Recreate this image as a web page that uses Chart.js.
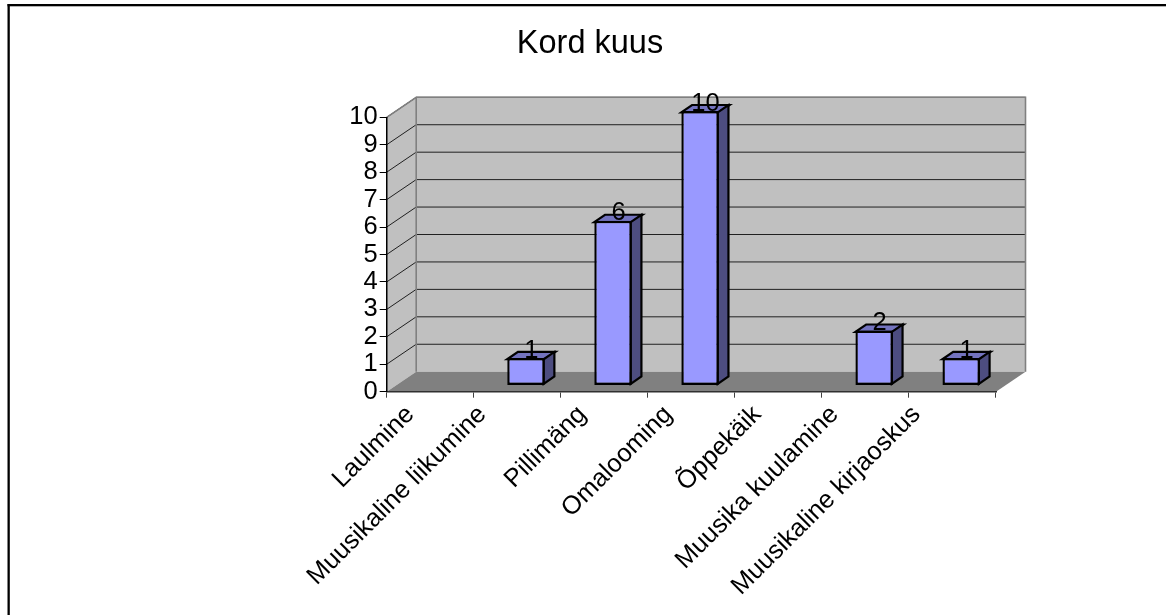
<!DOCTYPE html>
<html>
<head>
<meta charset="utf-8">
<style>html,body{margin:0;padding:0;background:#fff}#wrap{width:1166px;height:615px}canvas{display:block}</style>
<script src="https://cdn.jsdelivr.net/npm/chart.js@4"></script>
</head>
<body>
<div id="wrap"><canvas id="c" width="1166" height="615"></canvas></div>
<script>
const chartTitle = 'Kord kuus';
const categories = ['Laulmine','Muusikaline liikumine','Pillimäng','Omalooming','Õppekäik','Muusika kuulamine','Muusikaline kirjaoskus'];
const values = [null,1,6,10,null,2,1];
const yTicks = [0,1,2,3,4,5,6,7,8,9,10];

const FONT = '"Liberation Sans", Arial, sans-serif';
const WALL = {dx:29.5, dy:-20};
const BAR_SHIFT = {dx:8.7, dy:-6.2};
const BAR_DEPTH = {dx:10.7, dy:-7.3};
const AREA = {left:386.7, right:996, top:117.3, bottom:391.7};
const LABEL_NUDGE = [-6,-21,-8,-9,-7,-17,-22];

function poly(ctx, pts, fill, stroke, lw){
  ctx.beginPath();
  pts.forEach((p,i)=> i?ctx.lineTo(p[0],p[1]):ctx.moveTo(p[0],p[1]));
  ctx.closePath();
  if(fill){ctx.fillStyle=fill;ctx.fill();}
  if(stroke){ctx.strokeStyle=stroke;ctx.lineWidth=lw;ctx.lineJoin='miter';ctx.stroke();}
}

const threeD = {
  id:'threeD',
  afterLayout(chart){
    const t = chart.titleBlock;
    t.left = 14; t.right = 1166;
  },
  beforeDraw(chart){
    const ctx = chart.ctx, x = chart.scales.x, y = chart.scales.y;
    const L=x.left,R=x.right,T=y.top,B=y.bottom,dx=WALL.dx,dy=WALL.dy;
    if(!chart.$nudged){
      x.getLabelItems().forEach((it,i)=>{ it.options.translation[0]+=LABEL_NUDGE[i]; });
      chart.$nudged = true;
    }
    ctx.save();
    ctx.fillStyle='#fff';ctx.fillRect(0,0,chart.width,chart.height);
    // frame
    ctx.fillStyle='#000';
    ctx.fillRect(7.5,4,1158.5,2.3);
    ctx.fillRect(7.5,4,2.3,611);
    // back + side wall
    poly(ctx,[[L+dx,T+dy],[R+dx,T+dy],[R+dx,B+dy],[L+dx,B+dy]],'#c0c0c0');
    poly(ctx,[[L,T],[L+dx,T+dy],[L+dx,B+dy],[L,B]],'#c0c0c0');
    // gridlines
    ctx.strokeStyle='#202020';ctx.lineWidth=1;
    yTicks.forEach(v=>{
      const p=y.getPixelForValue(v);
      if(v===0) return;
      ctx.beginPath();
      ctx.moveTo(L,p);ctx.lineTo(L+dx,p+dy);ctx.lineTo(R+dx,p+dy);
      ctx.stroke();
    });
    // wall outlines
    ctx.strokeStyle='#808080';ctx.lineWidth=1.6;
    ctx.beginPath();
    ctx.moveTo(L,T);ctx.lineTo(L+dx,T+dy);ctx.lineTo(R+dx,T+dy);ctx.lineTo(R+dx,B+dy);
    ctx.moveTo(L+dx,T+dy);ctx.lineTo(L+dx,B+dy);
    ctx.stroke();
    // floor
    poly(ctx,[[L,B],[R,B],[R+dx,B+dy],[L+dx,B+dy]],'#808080');
    ctx.restore();
  },
  beforeDatasetsDraw(chart){
    const ctx = chart.ctx, d = BAR_DEPTH;
    ctx.save();
    ctx.translate(BAR_SHIFT.dx,BAR_SHIFT.dy);
    chart.getDatasetMeta(0).data.forEach((el,i)=>{
      if(values[i]==null) return;
      const {x,y,base,width} = el.getProps(['x','y','base','width'],true);
      const l=x-width/2,r=x+width/2;
      const t=y+1.2,b=base-1.2;
      poly(ctx,[[l,t],[r,t],[r+d.dx,t+d.dy],[l+d.dx,t+d.dy]],'#7373bf','#000',2.2);
      poly(ctx,[[r-1,t],[r+d.dx-1,t+d.dy],[r+d.dx-1,b+d.dy],[r-1,b]],'#4d4d80','#000',2.2);
    });
  },
  afterDatasetsDraw(chart){
    const ctx = chart.ctx;
    ctx.restore();
    ctx.save();
    ctx.font='25.5px '+FONT;
    ctx.fillStyle='#000';
    ctx.textAlign='center';
    ctx.textBaseline='middle';
    chart.getDatasetMeta(0).data.forEach((el,i)=>{
      if(values[i]==null) return;
      const {x,y} = el.getProps(['x','y'],true);
      ctx.fillText(String(values[i]), x+BAR_SHIFT.dx+5.5, y+BAR_SHIFT.dy-7.5);
    });
    ctx.restore();
  }
};

new Chart(document.getElementById('c'),{
  type:'bar',
  data:{labels:categories,datasets:[{
    data:values,
    backgroundColor:'#9999ff',
    borderColor:'#000',
    borderWidth:2.4,
    borderSkipped:false,
    barPercentage:0.43,
    categoryPercentage:1
  }]},
  options:{
    responsive:false,
    animation:false,
    devicePixelRatio:1,
    layout:{padding:{left:0,right:1166-AREA.right,top:0,bottom:0}},
    plugins:{
      legend:{display:false},
      tooltip:{enabled:false},
      title:{display:true,text:chartTitle,color:'#000',
        font:{family:FONT,size:32.5,weight:'normal',lineHeight:1.2},
        padding:{top:24.5,bottom:AREA.top-24.5-39}}
    },
    scales:{
      x:{
        offset:true,
        afterFit(s){s.height=615-AREA.bottom;},
        grid:{drawOnChartArea:false,offset:true,tickLength:6,color:'#404040',lineWidth:1},
        border:{color:'#303030',width:1.5},
        ticks:{color:'#000',font:{family:FONT,size:25.5},maxRotation:45,minRotation:45,autoSkip:false,padding:2,labelOffset:-14}
      },
      y:{
        min:0,max:10,
        afterFit(s){s.width=AREA.left;},
        grid:{drawOnChartArea:false,tickLength:7,color:'#000',lineWidth:1},
        border:{color:'#000',width:1.5},
        ticks:{color:'#000',font:{family:FONT,size:25.5},stepSize:1,padding:2,autoSkip:false,
          callback:(v)=>yTicks.includes(v)?String(v):''}
      }
    }
  },
  plugins:[threeD]
});
</script>
</body>
</html>
